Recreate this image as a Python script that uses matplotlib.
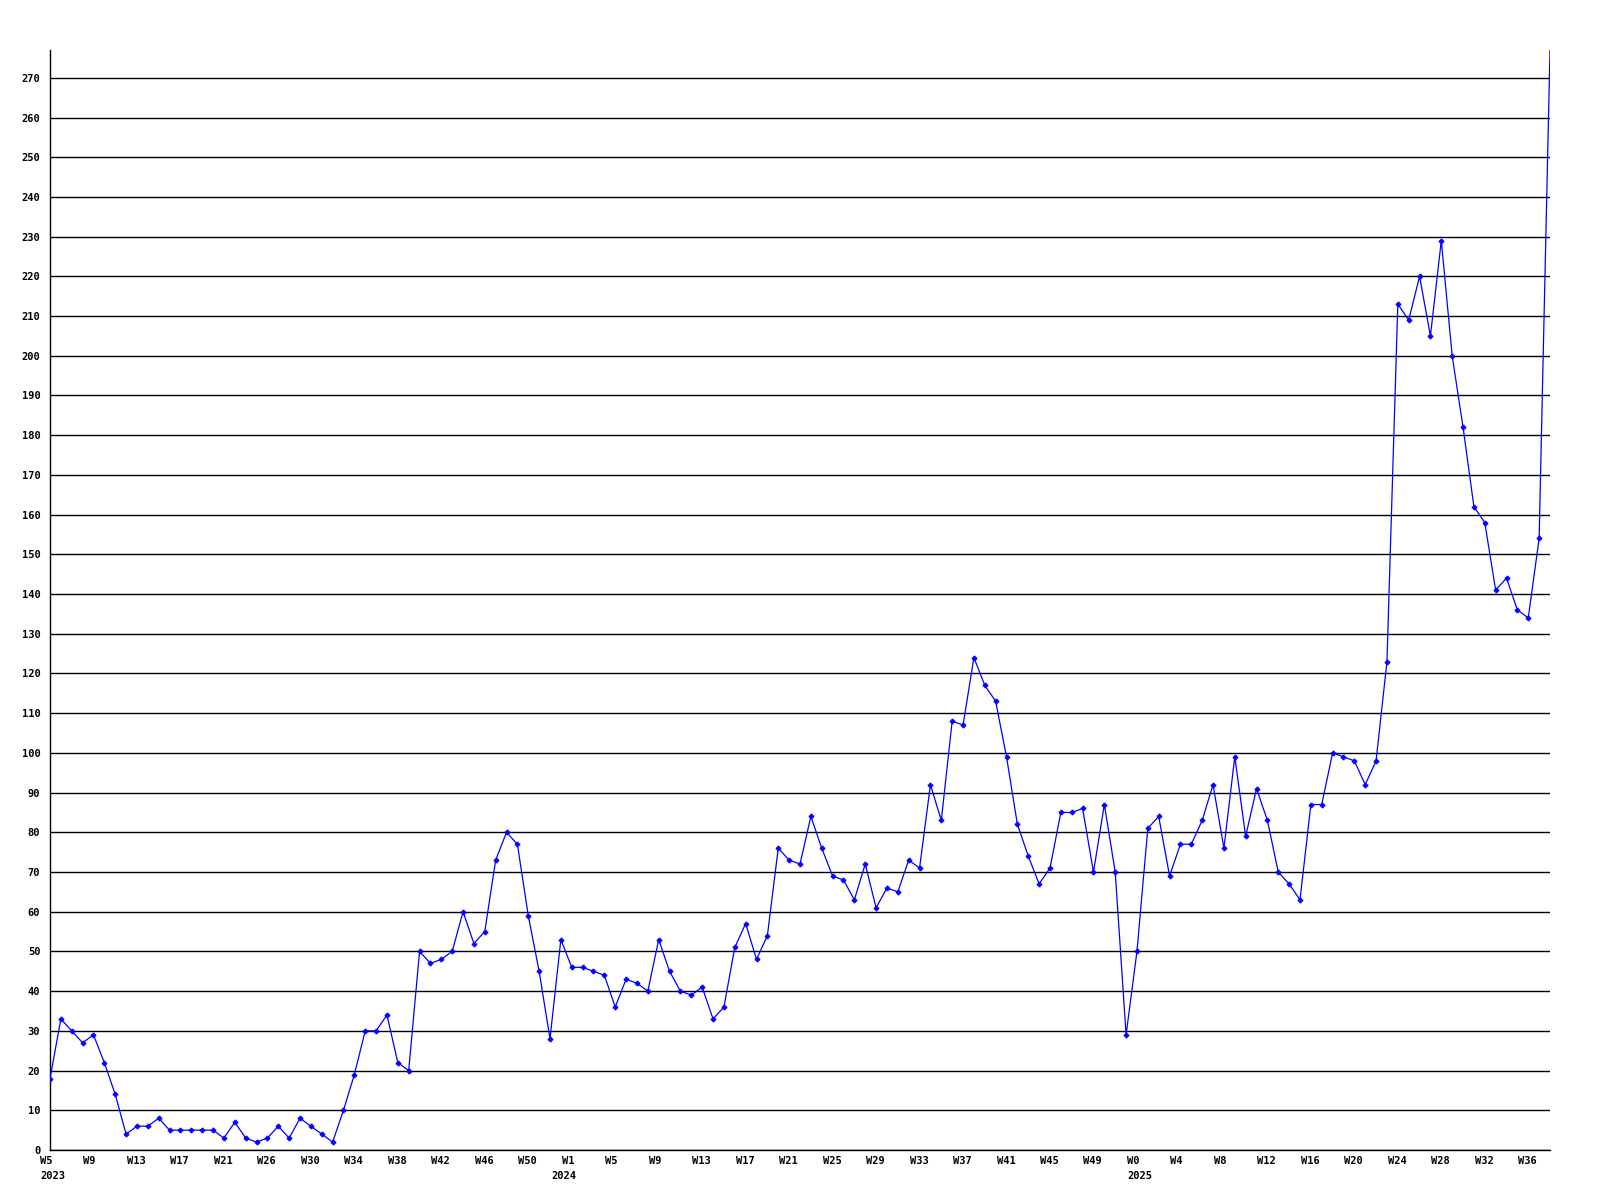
import matplotlib
matplotlib.use("Agg")
import matplotlib.pyplot as plt

# weekly counts, 2023 W5 .. 2025 W38
counts = [18, 33, 30, 27, 29, 22, 14, 4, 6, 6,
          8, 5, 5, 5, 5, 5, 3, 7, 3, 2,
          3, 6, 3, 8, 6, 4, 2, 10, 19, 30,
          30, 34, 22, 20, 50, 47, 48, 50, 60, 52,
          55, 73, 80, 77, 59, 45, 28, 53, 46, 46,
          45, 44, 36, 43, 42, 40, 53, 45, 40, 39,
          41, 33, 36, 51, 57, 48, 54, 76, 73, 72,
          84, 76, 69, 68, 63, 72, 61, 66, 65, 73,
          71, 92, 83, 108, 107, 124, 117, 113, 99, 82,
          74, 67, 71, 85, 85, 86, 70, 87, 70, 29,
          50, 81, 84, 69, 77, 77, 83, 92, 76, 99,
          79, 91, 83, 70, 67, 63, 87, 87, 100, 99,
          98, 92, 98, 123, 213, 209, 220, 205, 229, 200,
          182, 162, 158, 141, 144, 136, 134, 154, 277]

week_labels = ["W5", "W9", "W13", "W17", "W21", "W26", "W30", "W34", "W38",
               "W42", "W46", "W50", "W1", "W5", "W9", "W13", "W17", "W21",
               "W25", "W29", "W33", "W37", "W41", "W45", "W49", "W0", "W4",
               "W8", "W12", "W16", "W20", "W24", "W28", "W32", "W36"]
year_labels = ["2023", "2024", "2025"]
year_index = [0, 47, 100]

n = len(counts)
fig = plt.figure(figsize=(16, 12), dpi=100)
ax = fig.add_axes([50 / 1600, 50 / 1200, 1500 / 1600, 1100 / 1200])

# last point runs off the top of the chart, no marker there
ax.plot(range(n), counts, color="#0000ff", lw=0.9, marker="P", ms=3.5,
        mec="#0000ff", mfc="#0000ff", mew=0.5, markevery=list(range(n - 1)),
        zorder=3)

ax.set_xlim(0, n - 1)
ax.set_ylim(0, max(counts))

font = dict(family="DejaVu Sans Mono", fontsize=7.5, fontweight="bold")

ax.set_yticks(range(0, 271, 10))
ax.set_yticklabels([str(v) for v in range(0, 271, 10)], **font)
ax.yaxis.grid(True, color="black", lw=1.0)
ax.set_axisbelow(True)
ax.tick_params(axis="y", length=0, pad=7)

# week labels every 4th point, left edge ~10px before the point
ax.set_xticks([])
for i, txt in zip(range(0, n, 4), week_labels):
    ax.annotate(txt, xy=(i, 0), xycoords=("data", "axes fraction"),
                xytext=(-10, -11), textcoords="offset pixels",
                ha="left", va="center", **font)

for txt, idx in zip(year_labels, year_index):
    ax.annotate(txt, xy=(idx, 0), xycoords=("data", "axes fraction"),
                xytext=(3, -26), textcoords="offset pixels",
                ha="center", va="center", **font)

for s in ["top", "right"]:
    ax.spines[s].set_visible(False)
ax.spines["left"].set_linewidth(1.0)
ax.spines["bottom"].set_linewidth(1.0)

fig.savefig("out.png", dpi=100)
